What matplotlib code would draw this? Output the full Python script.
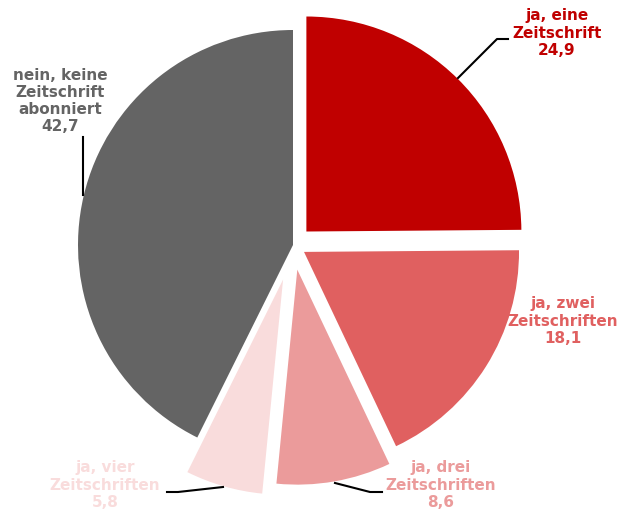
import matplotlib
matplotlib.use("Agg")
import matplotlib.pyplot as plt

# Zeitschriften-Abonnements (Anteile in %)
labels = ["ja, eine\nZeitschrift", "ja, zwei\nZeitschriften", "ja, drei\nZeitschriften",
          "ja, vier\nZeitschriften", "nein, keine\nZeitschrift\nabonniert"]
values = [24.9, 18.1, 8.6, 5.8, 42.7]
colors = ["#C00000", "#E06060", "#EB9B9B", "#F9DCDC", "#646464"]
explode = [19, 13, 25, 36, 0]

# label anchor points (pixel coords, y from top)
label_pos = [(557, 33), (563, 321), (441, 485), (105, 485), (60, 101)]
leaders = [
    [(458, 78), (497, 39), (508, 39)],
    None,
    [(335, 483), (370, 492), (382, 492)],
    [(167, 492), (178, 492), (223, 487)],
    [(83, 137), (83, 195)],
]

W, H = 621, 515
fig = plt.figure(figsize=(W / 100, H / 100), dpi=100)
ax = fig.add_axes([0, 0, 1, 1])

cx, cy, r = 293, 245, 215
ax.pie(values, colors=colors, explode=explode, radius=r, center=(cx, H - cy),
       startangle=90, counterclock=False, wedgeprops=dict(linewidth=0))
ax.set_xlim(0, W)
ax.set_ylim(0, H)
ax.set_aspect("auto")
ax.axis("off")

for lab, val, col, (x, y), seg in zip(labels, values, colors, label_pos, leaders):
    txt = f"{lab}\n{val:.1f}".replace(".", ",")
    ax.text(x, H - y, txt, ha="center", va="center", color=col, fontsize=11,
            fontweight="bold", family="DejaVu Sans", linespacing=1.17)
    if seg:
        xs, ys = zip(*seg)
        ax.plot(xs, [H - v for v in ys], color="black", lw=1.5)

fig.savefig("out.png", dpi=100)
